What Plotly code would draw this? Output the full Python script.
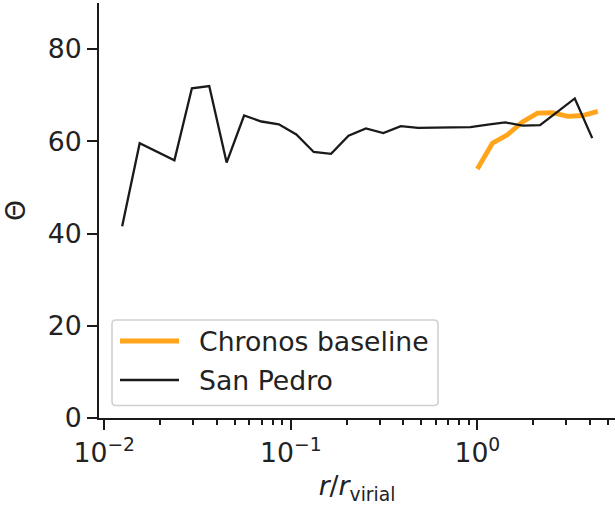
import plotly.graph_objects as go

# San Pedro profile: radius in units of r_virial, angle Theta
san_pedro_r = [0.01248, 0.01549, 0.02378, 0.02951, 0.03656, 0.04530, 0.05620,
               0.06966, 0.0863, 0.1071, 0.1327, 0.1644, 0.2040, 0.2529, 0.3134,
               0.3888, 0.4819, 0.5971, 0.7408, 0.9181, 1.138, 1.410, 1.749,
               2.168, 2.686, 3.33, 4.13]
san_pedro_theta = [41.6, 59.6, 55.9, 71.5, 72.0, 55.4, 65.6, 64.3, 63.7, 61.5,
                   57.7, 57.3, 61.2, 62.8, 61.8, 63.3, 62.9, 63.0, 63.1, 63.1,
                   63.6, 64.1, 63.4, 63.5, 66.4, 69.3, 60.7]

# Chronos baseline profile
chronos_r = [1.0, 1.204, 1.449, 1.745, 2.10, 2.53, 3.05, 3.67, 4.42]
chronos_theta = [54.0, 59.6, 61.4, 64.2, 66.1, 66.2, 65.4, 65.6, 66.5]

series_names = ["Chronos baseline", "San Pedro"]
series_colors = ["#ffa41b", "#1a1a1a"]
series_widths = [4.8, 2.3]

x_tick_vals = [0.01, 0.1, 1]
x_tick_text = ["10<sup>\u22122</sup>", "10<sup>\u22121</sup>", "10<sup>0</sup>"]
x_minor_vals = [m * 10.0 ** e for e in (-2, -1, 0) for m in range(2, 10)]
y_tick_vals = [0, 20, 40, 60, 80]

W, H = 615, 505
L, R, T, B = 99, 0, 3, 87
PW, PH = W - L - R, H - T - B
FONT = "DejaVu Sans"
FS = 26.7
TXT = "#222222"


def px(xp):
    return (xp - L) / PW


def py(yp):
    return (H - B - yp) / PH


fig = go.Figure()
fig.add_trace(go.Scatter(x=chronos_r, y=chronos_theta, mode="lines",
                         name=series_names[0],
                         line=dict(color=series_colors[0], width=series_widths[0])))
fig.add_trace(go.Scatter(x=san_pedro_r, y=san_pedro_theta, mode="lines",
                         name=series_names[1],
                         line=dict(color=series_colors[1], width=series_widths[1])))

# legend box with rounded corners
x0, x1, y0, y1, rr = px(112), px(438), py(320), py(405.5), 4
rx, ry = rr / PW, rr / PH
path = (f"M{x0+rx},{y0} L{x1-rx},{y0} Q{x1},{y0} {x1},{y0-ry} "
        f"L{x1},{y1+ry} Q{x1},{y1} {x1-rx},{y1} L{x0+rx},{y1} "
        f"Q{x0},{y1} {x0},{y1+ry} L{x0},{y0-ry} Q{x0},{y0} {x0+rx},{y0} Z")
fig.add_shape(type="path", path=path, xref="paper", yref="paper",
              line=dict(color="#d0d0d0", width=1.6), fillcolor="rgba(255,255,255,0.8)",
              layer="above")
for i, yc in enumerate([341, 380]):
    fig.add_shape(type="line", xref="paper", yref="paper",
                  x0=px(120), x1=px(179), y0=py(yc), y1=py(yc),
                  line=dict(color=series_colors[i], width=series_widths[i]),
                  layer="above")
    fig.add_annotation(xref="paper", yref="paper", x=px(197), y=py(yc),
                       xanchor="left", yanchor="middle", showarrow=False,
                       text=series_names[i],
                       font=dict(family=FONT, size=FS, color=TXT))

fig.update_layout(
    width=W, height=H,
    margin=dict(l=L, r=R, t=T, b=B),
    paper_bgcolor="white", plot_bgcolor="white",
    showlegend=False,
    font=dict(family=FONT, size=FS, color=TXT),
)
fig.update_xaxes(
    type="log", range=[-2.028, 0.738],
    showline=True, linecolor="#1a1a1a", linewidth=2,
    showgrid=False, zeroline=False,
    ticks="outside", ticklen=10, tickwidth=2, tickcolor="#1a1a1a",
    tickvals=x_tick_vals, ticktext=x_tick_text,
    tickfont=dict(family=FONT, size=FS, color=TXT),
    minor=dict(ticks="outside", ticklen=5, tickwidth=1.5, tickcolor="#1a1a1a",
               tickvals=x_minor_vals, showgrid=False),
    title=dict(text="<i>r</i>/<i>r</i><sub>virial</sub>",
               font=dict(family=FONT, size=FS, color=TXT), standoff=16),
)
fig.update_yaxes(
    range=[0, 90],
    showline=True, linecolor="#1a1a1a", linewidth=2,
    showgrid=False, zeroline=False,
    ticks="outside", ticklen=10, tickwidth=2, tickcolor="#1a1a1a",
    tickvals=y_tick_vals,
    tickfont=dict(family=FONT, size=FS, color=TXT),
    title=dict(text="\u0398", font=dict(family=FONT, size=FS, color=TXT), standoff=14),
)

fig.write_html("out.html")
